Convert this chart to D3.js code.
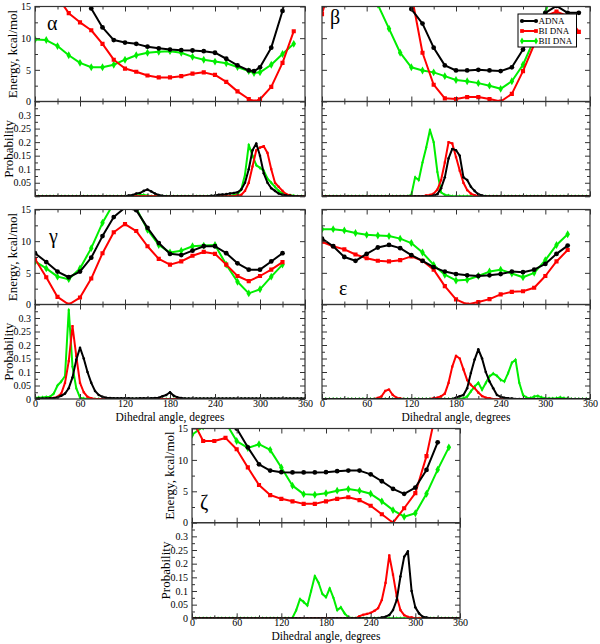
<!DOCTYPE html>
<html>
<head>
<meta charset="utf-8">
<script src="https://cdn.jsdelivr.net/npm/d3@7/dist/d3.min.js"></script>
<style>
html,body{margin:0;padding:0;background:#fff;}
svg{display:block;}
svg text{font-family:"Liberation Serif","Times New Roman",Times,serif !important;}
</style>
</head>
<body>
<svg id="chart" width="600" height="644"></svg>
<script>
// ---------------- DATA ----------------
const seriesNames = ["ADNA", "BI DNA", "BII DNA"];
const seriesColors = ["#000000", "#ff0000", "#00ee00"];
const xTickValues = [0, 60, 120, 180, 240, 300, 360];
const xMinorTicks = [30, 90, 150, 210, 270, 330];
const energyTickValues = [0, 5, 10, 15];
const energyMinorTicks = [2.5, 7.5, 12.5];
const probTickValues = [0, 0.05, 0.1, 0.15, 0.2, 0.25, 0.3];
const probMinorTicks = [0.025, 0.075, 0.125, 0.175, 0.225, 0.275, 0.325];

const energyAngles = [0,15,30,45,60,75,90,105,120,135,150,165,180,195,210,225,240,255,270,285,300,315,330,345];
const alphaAngles  = [0,15,30,45,60,75,90,105,120,135,150,165,180,195,210,225,240,255,270,285,292,300,315,330,345];
const probAngles = [0,5,10,15,20,25,30,35,40,45,50,55,60,65,70,75,80,85,90,95,100,105,110,115,
  120,125,130,135,140,145,150,155,160,165,170,175,180,185,190,195,200,205,210,215,220,225,230,235,
  240,245,250,255,260,265,270,275,280,285,290,295,300,305,310,315,320,325,330,335,340,345,350,355,360];

// Energy (kcal/mol); values above 15 run off the top of the panel
const alphaADNA = [null,null,null,null,25,14.7,11.7,9.7,9.3,9.1,8.65,8.4,8.2,8.1,8.05,7.95,7.7,6.75,5.7,4.9,4.8,5.4,8.5,14.3,22];
const alphaBI   = [null,20,16.5,13.95,12.5,11.25,9.1,6.6,5.2,4.7,4.1,3.8,3.8,4.0,4.4,4.6,4.2,3.1,1.6,0.4,0.0,0.35,2.3,6.1,11.1];
const alphaBII  = [9.8,9.7,8.75,7.3,6.1,5.4,5.4,5.8,6.6,7.3,7.7,7.85,7.95,7.7,7.05,6.6,6.3,6.05,5.45,4.8,4.5,4.6,5.8,7.5,9.1];

const betaADNA = [null,null,null,null,null,null,null,20,14.6,12.3,8.5,5.7,4.9,4.9,5.0,4.9,4.8,5.4,8.2,11.9,14.0,15.1,14.0,14.0];
const betaBI   = [13.8,20,null,null,null,null,null,null,17,7.7,2.65,0.5,0.4,0.7,0.7,0.4,0.0,1.2,4.8,9.0,13.5,14.2,13.5,11.0];
const betaBII  = [null,null,null,null,25,15.3,11.5,7.7,5.4,4.9,4.6,4.0,3.4,3.2,2.9,2.5,2.0,3.2,5.8,9.8,14.0,20,null,null];

const gammaADNA = [8.1,6.7,5.2,4.3,5.2,7.4,10.8,13.8,15.3,14.9,12.1,9.7,8.0,7.8,8.5,9.2,9.2,8.1,6.5,5.5,5.5,6.8,8.1,null];
const gammaBI   = [7.2,4.3,1.2,0,1.1,4.1,8.1,11.4,12.7,11.6,9.2,7.2,6.3,6.8,7.7,8.3,8.0,6.3,4.5,3.7,4.5,5.5,6.7,null];
const gammaBII  = [6.8,5.7,4.4,4.0,5.7,8.9,12.9,16,18,15.2,11.8,9.4,8.2,8.5,9.2,9.3,9.4,6.3,3.6,1.75,2.4,4.4,6.3,null];

const epsilonADNA = [10.4,9.2,7.5,6.9,8.0,9.0,9.4,8.9,7.8,6.9,5.9,5.2,4.8,4.6,4.5,4.6,4.8,5.2,5.1,5.5,6.4,8.0,9.3,null];
const epsilonBI   = [9.9,9.2,8.7,7.9,7.3,6.9,6.8,7.0,7.6,6.9,5.5,2.9,0.8,0,0.4,0.85,1.6,2.0,2.1,2.65,4.5,6.8,8.6,null];
const epsilonBII  = [11.9,11.9,11.7,11.3,11.0,10.9,10.8,10.4,9.7,8.2,6.25,4.7,3.8,3.9,4.5,5.2,5.5,4.9,4.3,5.0,7.0,9.4,11.1,null];

const zetaADNA = [null,null,null,19,15.0,12.0,9.3,8.3,8.05,8.0,8.0,8.0,8.05,8.2,8.3,8.3,7.7,6.6,5.4,4.6,5.6,8.4,12.8,null];
const zetaBI   = [16.5,13.0,13.0,13.5,11.7,8.8,6.0,4.4,3.8,3.4,3.0,3.0,3.4,3.8,4.05,3.6,2.7,1.35,0,2.3,4.7,10.6,19,null];
const zetaBII  = [14.0,15.3,17,16,13.0,11.9,12.5,11.6,8.8,5.9,4.55,4.45,4.7,5.1,5.35,5.1,4.6,3.4,2.0,0.95,1.5,4.6,8.45,12.0];

// Probability distributions on the 5-degree grid (probAngles)
const alphaProbADNA = [0,0,0,0,0,0,0,0,0,0,0,0, 0,0,0,0,0,0,0,0,0,0,0,0,
  0,0.003,0.005,0.01,0.012,0.02,0.025,0.018,0.01,0.005,0.002,0,
  0,0,0,0,0,0,0,0,0,0,0,0.002,
  0.003,0.006,0.007,0.008,0.01,0.012,0.015,0.025,0.05,0.1,0.17,0.195,
  0.15,0.085,0.05,0.03,0.02,0.01,0.006,0.003,0.002,0,0,0, 0];
const alphaProbBI = [0,0,0,0,0,0,0,0,0,0,0,0, 0,0,0,0,0,0,0,0,0,0,0,0,
  0,0,0,0,0,0,0,0,0,0,0,0, 0,0,0,0,0,0,0,0,0,0,0,0,
  0,0,0,0,0,0,0.003,0.005,0.02,0.05,0.11,0.17,
  0.18,0.185,0.16,0.1,0.05,0.035,0.02,0.008,0.003,0,0,0, 0];
const alphaProbBII = [0,0,0,0,0,0,0,0,0,0,0,0, 0,0,0,0,0,0,0,0,0,0,0,0,
  0,0,0,0.003,0.005,0.005,0.003,0,0,0,0,0, 0,0,0,0,0,0,0,0,0,0,0,0,
  0,0,0,0,0,0.005,0.008,0.025,0.08,0.19,0.15,0.115,
  0.105,0.095,0.065,0.05,0.035,0.02,0.01,0.006,0.004,0.002,0,0, 0];

const betaProbADNA = [0,0,0,0,0,0,0,0,0,0,0,0, 0,0,0,0,0,0,0,0,0,0,0,0,
  0,0,0,0,0,0,0.003,0.008,0.03,0.07,0.14,0.175,
  0.17,0.15,0.07,0.06,0.035,0.02,0.008,0.003,0,0,0,0,
  0,0,0,0,0,0,0,0,0,0,0,0, 0,0,0,0,0,0,0,0,0,0,0,0, 0];
const betaProbBI = [0,0,0,0,0,0,0,0,0,0,0,0, 0,0,0,0,0,0,0,0,0,0,0,0,
  0,0,0,0,0.003,0.005,0.01,0.025,0.06,0.125,0.2,0.195,
  0.145,0.095,0.05,0.023,0.01,0.004,0,0,0,0,0,0,
  0,0,0,0,0,0,0,0,0,0,0,0, 0,0,0,0,0,0,0,0,0,0,0,0, 0];
const betaProbBII = [0,0,0,0,0,0,0,0,0,0,0,0, 0,0,0,0,0,0,0,0,0,0,0,0,
  0.005,0.07,0.06,0.125,0.18,0.245,0.2,0.09,0.015,0.005,0.003,0,
  0,0,0,0,0,0,0,0,0,0,0,0, 0,0,0,0,0,0,0,0,0,0,0,0, 0,0,0,0,0,0,0,0,0,0,0,0, 0];

const gammaProbADNA = [0.002,0.002,0.002,0.002,0.003,0.003,0.006,0.012,0.02,0.04,0.08,0.145,
  0.19,0.15,0.1,0.06,0.03,0.015,0.008,0.005,0.004,0.003,0.003,0.003,
  0.003,0.003,0.002,0.002,0.003,0.003,0.003,0.003,0.004,0.005,0.01,0.015,
  0.025,0.012,0.006,0.004,0.002,0.002,0.002,0.002,0.002,0.002,0.002,0.002,
  0.002,0.002,0.002,0.002,0.002,0.002,0.002,0.002,0.002,0.002,0.002,0.002,
  0.002,0.002,0.002,0.002,0.002,0.002,0.002,0.002,0.002,0.002,0.002,0.002, 0.002];
const gammaProbBI = [0,0,0,0,0.002,0.004,0.008,0.02,0.06,0.14,0.27,0.16,
  0.06,0.025,0.008,0.003,0,0,0,0,0,0,0,0,
  0,0,0,0,0,0,0,0,0,0,0,0, 0,0,0,0,0,0,0,0,0,0,0,0,
  0,0,0,0,0,0,0,0,0,0,0,0, 0,0,0,0,0,0,0,0,0,0,0,0, 0];
const gammaProbBII = [0.005,0.005,0.006,0.007,0.008,0.02,0.05,0.065,0.085,0.33,0.12,0.04,
  0.005,0.002,0,0,0,0,0,0,0,0,0,0,
  0,0,0,0,0,0,0,0,0,0,0,0, 0,0,0,0,0,0,0,0,0,0,0,0,
  0,0,0,0,0,0,0,0,0,0,0,0, 0,0,0,0,0,0,0,0,0,0,0,0, 0];

const epsilonProbADNA = [0,0,0,0,0,0,0,0,0,0,0,0, 0,0,0,0,0,0,0,0,0,0,0,0,
  0,0,0,0,0,0,0,0,0,0,0,0,
  0.005,0.01,0.015,0.04,0.096,0.146,0.184,0.15,0.1,0.065,0.04,0.015,
  0.008,0.005,0.003,0.002,0,0,0,0,0,0,0,0,
  0,0,0,0,0,0,0,0,0,0,0,0, 0];
const epsilonProbBI = [0,0,0,0,0,0,0,0,0,0,0,0,
  0,0,0,0.004,0.01,0.03,0.035,0.015,0.005,0.002,0,0,
  0,0,0,0,0,0,0.003,0.005,0.01,0.02,0.06,0.12,
  0.16,0.15,0.11,0.07,0.052,0.04,0.024,0.011,0.005,0.003,0,0,
  0,0,0,0,0,0,0,0,0,0,0,0, 0,0,0,0,0,0,0,0,0,0,0,0, 0];
const epsilonProbBII = [0,0,0,0,0,0,0,0,0,0,0,0, 0,0,0,0,0,0,0,0,0,0,0,0,
  0,0,0,0,0,0,0,0,0,0,0,0,
  0,0,0.003,0.009,0.028,0.046,0.06,0.034,0.059,0.084,0.094,0.086,
  0.071,0.065,0.096,0.134,0.145,0.06,0.015,0.005,0.003,0.009,0.011,0.006,
  0.003,0.002,0.002,0.003,0.006,0.003,0.002,0,0,0,0,0, 0];

const zetaProbADNA = [0,0,0,0,0,0,0,0,0,0,0,0, 0,0,0,0,0,0,0,0,0,0,0,0,
  0,0,0,0,0,0,0,0,0,0,0,0, 0,0,0,0,0,0,0,0,0,0,0,0,
  0,0,0,0.003,0.006,0.012,0.03,0.067,0.153,0.225,0.245,0.1,
  0.04,0.018,0.006,0.003,0,0,0,0,0,0,0,0, 0];
const zetaProbBI = [0,0,0,0,0,0,0,0,0,0,0,0, 0,0,0,0,0,0,0,0,0,0,0,0,
  0,0,0,0,0,0,0,0,0,0,0,0,
  0,0,0,0,0,0,0,0,0,0.008,0.013,0.016,
  0.02,0.027,0.037,0.067,0.13,0.23,0.16,0.08,0.03,0.012,0.005,0.003,
  0,0,0,0,0,0,0,0,0,0,0,0, 0];
const zetaProbBII = [0,0,0,0,0,0,0,0,0,0,0,0, 0,0,0,0,0,0,0,0,0,0,0,0,
  0,0,0,0.002,0.03,0.07,0.06,0.047,0.1,0.155,0.13,0.09,
  0.077,0.11,0.075,0.03,0.04,0.018,0.004,0,0,0,0,0,
  0,0,0,0,0,0,0,0,0,0,0,0, 0,0,0,0,0,0,0,0,0,0,0,0, 0];

// ---------------- LAYOUT ----------------
const panels = [
  {label:"α", x0:35, x1:305, eTop:6.5, eBot:101.5, pBot:196.3, yLabels:true, xLabels:false, probZero:false,
   angles:alphaAngles, energy:[alphaADNA, alphaBI, alphaBII], prob:[alphaProbADNA, alphaProbBI, alphaProbBII], greek:[12, 30]},
  {label:"β", x0:322, x1:590, eTop:6.5, eBot:101.5, pBot:196.3, yLabels:false, xLabels:false, probZero:false, legend:true,
   angles:energyAngles, energy:[betaADNA, betaBI, betaBII], prob:[betaProbADNA, betaProbBI, betaProbBII], greek:[8, 24]},
  {label:"γ", x0:35, x1:305, eTop:209.5, eBot:304.5, pBot:399, yLabels:true, xLabels:true, probZero:true,
   angles:energyAngles, energy:[gammaADNA, gammaBI, gammaBII], prob:[gammaProbADNA, gammaProbBI, gammaProbBII], greek:[14, 243]},
  {label:"ε", x0:322, x1:590, eTop:209.5, eBot:304.5, pBot:399, yLabels:false, xLabels:true, probZero:true,
   angles:energyAngles, energy:[epsilonADNA, epsilonBI, epsilonBII], prob:[epsilonProbADNA, epsilonProbBI, epsilonProbBII], greek:[17, 295]},
  {label:"ζ", x0:192, x1:460, eTop:428.5, eBot:522.7, pBot:618.3, yLabels:true, xLabels:true, probZero:true,
   angles:energyAngles, energy:[zetaADNA, zetaBI, zetaBII], prob:[zetaProbADNA, zetaProbBI, zetaProbBII], greek:[8, 509]}
];

const FONT = "'Liberation Serif','Times New Roman',Times,serif";
const FRAME = "#333";
const svg = d3.select("#chart");
const symbolTypes = [d3.symbolCircle, d3.symbolSquare, d3.symbolDiamond];
const energySizes = [18, 17, 18];
const probSizes = [5, 5, 5];

function styleAxis(g, showLabels, fs) {
  g.attr("font-family", null).attr("font-size", null);
  g.select(".domain").remove();
  g.selectAll(".tick line").attr("stroke", FRAME).attr("stroke-width", 1);
  g.selectAll(".tick text").attr("font-family", FONT).attr("font-size", fs || 10).attr("fill", "#000");
  if (!showLabels) g.selectAll(".tick text").remove();
}

function frameAxes(g, x, y, top, bot, left, right, yMajor, yMinor, xLab, yLab, yFmt) {
  g.append("g").attr("transform", `translate(0,${bot})`)
    .call(d3.axisBottom(x).tickValues(xTickValues).tickSizeInner(-5).tickSizeOuter(0).tickPadding(1).tickFormat(d3.format("d")))
    .call(s => styleAxis(s, xLab, 10));
  g.append("g").attr("transform", `translate(0,${bot})`)
    .call(d3.axisBottom(x).tickValues(xMinorTicks).tickSizeInner(-3).tickSizeOuter(0))
    .call(s => styleAxis(s, false));
  g.append("g").attr("transform", `translate(0,${top})`)
    .call(d3.axisTop(x).tickValues(xTickValues).tickSizeInner(-5).tickSizeOuter(0))
    .call(s => styleAxis(s, false));
  g.append("g").attr("transform", `translate(0,${top})`)
    .call(d3.axisTop(x).tickValues(xMinorTicks).tickSizeInner(-3).tickSizeOuter(0))
    .call(s => styleAxis(s, false));
  g.append("g").attr("transform", `translate(${left},0)`)
    .call(d3.axisLeft(y).tickValues(yMajor).tickSizeInner(-5).tickSizeOuter(0).tickPadding(4).tickFormat(yFmt))
    .call(s => styleAxis(s, yLab, 10));
  g.append("g").attr("transform", `translate(${left},0)`)
    .call(d3.axisLeft(y).tickValues(yMinor).tickSizeInner(-3).tickSizeOuter(0))
    .call(s => styleAxis(s, false));
  g.append("g").attr("transform", `translate(${right},0)`)
    .call(d3.axisRight(y).tickValues(yMajor).tickSizeInner(-5).tickSizeOuter(0))
    .call(s => styleAxis(s, false));
  g.append("g").attr("transform", `translate(${right},0)`)
    .call(d3.axisRight(y).tickValues(yMinor).tickSizeInner(-3).tickSizeOuter(0))
    .call(s => styleAxis(s, false));
  g.append("rect").attr("x", left).attr("y", top).attr("width", right - left).attr("height", bot - top)
    .attr("fill", "none").attr("stroke", FRAME).attr("stroke-width", 1.2);
}

function drawSeries(g, x, y, angles, values, i, size, lw, clipId) {
  const pts = angles.map((a, k) => [a, values[k]]);
  const line = d3.line().defined(d => d[1] != null).x(d => x(d[0])).y(d => y(d[1]));
  const sg = g.append("g").attr("clip-path", `url(#${clipId})`);
  sg.append("path").datum(pts).attr("d", line).attr("fill", "none")
    .attr("stroke", seriesColors[i]).attr("stroke-width", lw).attr("stroke-linejoin", "round");
  sg.selectAll("path.m").data(pts.filter(d => d[1] != null)).join("path").attr("class", "m")
    .attr("transform", d => `translate(${x(d[0])},${y(d[1])})`)
    .attr("d", d3.symbol().type(symbolTypes[i]).size(size))
    .attr("fill", seriesColors[i]);
}

panels.forEach((p, pi) => {
  const g = svg.append("g");
  const x = d3.scaleLinear().domain([0, 360]).range([p.x0, p.x1]);
  const yE = d3.scaleLinear().domain([0, 15]).range([p.eBot, p.eTop]);
  const yP = d3.scaleLinear().domain([0, 0.35]).range([p.pBot, p.eBot]);
  const defs = svg.append("defs");
  defs.append("clipPath").attr("id", "ce" + pi).append("rect")
    .attr("x", p.x0).attr("y", p.eTop).attr("width", p.x1 - p.x0).attr("height", p.eBot - p.eTop);
  defs.append("clipPath").attr("id", "cp" + pi).append("rect")
    .attr("x", p.x0).attr("y", p.eBot).attr("width", p.x1 - p.x0).attr("height", p.pBot - p.eBot);

  [2, 1, 0].forEach(i => {
    drawSeries(g, x, yE, p.angles, p.energy[i], i, energySizes[i], 2, "ce" + pi);
    drawSeries(g, x, yP, probAngles, p.prob[i], i, probSizes[i], 2, "cp" + pi);
  });

  frameAxes(g, x, yE, p.eTop, p.eBot, p.x0, p.x1, energyTickValues, energyMinorTicks, false, p.yLabels, d3.format("d"));
  const pFmt = v => v === 0 ? (p.probZero ? "0" : "") : String(+v.toFixed(3));
  frameAxes(g, x, yP, p.eBot, p.pBot, p.x0, p.x1, probTickValues, probMinorTicks, p.xLabels, p.yLabels, pFmt);

  g.append("text").attr("x", p.x0 + p.greek[0]).attr("y", p.greek[1])
    .attr("font-family", FONT).attr("font-size", 20).text(p.label);

  if (p.yLabels) {
    const ex = p.x0 - 18, px = p.x0 - 22;
    g.append("text").attr("transform", `translate(${ex},${(p.eTop + p.eBot) / 2}) rotate(-90)`)
      .attr("text-anchor", "middle").attr("font-family", FONT).attr("font-size", 13).text("Energy, kcal/mol");
    g.append("text").attr("transform", `translate(${px},${(p.eBot + p.pBot) / 2}) rotate(-90)`)
      .attr("text-anchor", "middle").attr("font-family", FONT).attr("font-size", 13).text("Probability");
  }
  if (p.xLabels) {
    g.append("text").attr("x", (p.x0 + p.x1) / 2).attr("y", p.pBot + 21.5)
      .attr("text-anchor", "middle").attr("font-family", FONT).attr("font-size", 11.5).text("Dihedral angle, degrees");
  }

  if (p.legend) {
    const lg = g.append("g");
    const lx = p.x1 - 72, ly = p.eTop + 7.5;
    lg.append("rect").attr("x", lx).attr("y", ly).attr("width", 58.5).attr("height", 33)
      .attr("fill", "#fff").attr("stroke", "#000").attr("stroke-width", 1);
    seriesNames.forEach((n, i) => {
      const yy = ly + 7 + i * 10;
      lg.append("line").attr("x1", lx + 4).attr("x2", lx + 18).attr("y1", yy).attr("y2", yy)
        .attr("stroke", seriesColors[i]).attr("stroke-width", 2);
      [lx + 4, lx + 18].forEach(mx => lg.append("path")
        .attr("transform", `translate(${mx},${yy})`)
        .attr("d", d3.symbol().type(symbolTypes[i]).size(14)).attr("fill", seriesColors[i]));
      lg.append("text").attr("x", lx + 20.5).attr("y", yy + 3.2)
        .attr("font-family", FONT).attr("font-size", 9).text(n);
    });
  }
});
</script>
</body>
</html>
